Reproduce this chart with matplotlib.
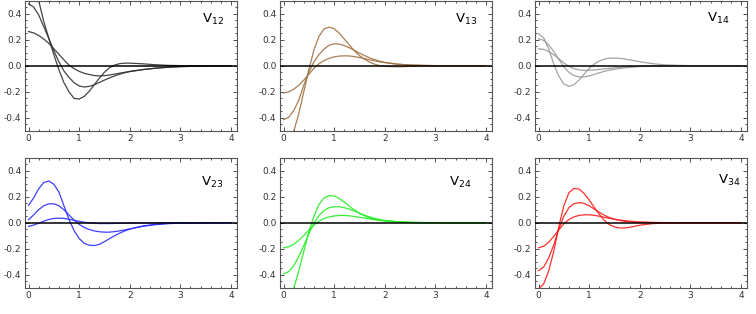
import numpy as np
import matplotlib.pyplot as plt
from matplotlib.ticker import MultipleLocator

# shared sample positions (x) for all curves
x = [0.0, 0.1, 0.2, 0.3, 0.4, 0.5, 0.6, 0.7, 0.8, 0.9, 1.0, 1.1, 1.2, 1.3,
     1.4, 1.5, 1.6, 1.7, 1.8, 1.9, 2.0, 2.25, 2.5, 2.75, 3.0, 3.5, 4.0]

# V12
v12_a = [0.74, 0.67, 0.5, 0.34, 0.21, 0.085, -0.03, -0.13, -0.2, -0.25, -0.255, -0.235, -0.195, -0.145,
         -0.095, -0.05, -0.015, 0.005, 0.016, 0.02, 0.02, 0.015, 0.008, 0.003, 0.001, 0.0, 0.0]
v12_b = [0.474, 0.45, 0.39, 0.3, 0.21, 0.115, 0.03, -0.04, -0.09, -0.13, -0.155, -0.163, -0.158, -0.145,
         -0.128, -0.11, -0.093, -0.078, -0.065, -0.054, -0.045, -0.03, -0.019, -0.011, -0.006, -0.002, 0.0]
v12_c = [0.262, 0.252, 0.232, 0.205, 0.172, 0.13, 0.088, 0.045, 0.005, -0.022, -0.043, -0.058, -0.067, -0.075,
         -0.078, -0.076, -0.071, -0.064, -0.057, -0.05, -0.043, -0.03, -0.019, -0.012, -0.007, -0.002, 0.0]
# V13
v13_a = [-0.64, -0.6, -0.505, -0.37, -0.2, -0.03, 0.12, 0.225, 0.282, 0.296, 0.283, 0.25, 0.205, 0.158,
         0.115, 0.078, 0.05, 0.028, 0.012, 0.001, -0.005, -0.008, -0.005, -0.002, -0.001, 0.0, 0.0]
v13_b = [-0.413, -0.395, -0.345, -0.265, -0.15, -0.05, 0.03, 0.085, 0.128, 0.157, 0.168, 0.166, 0.155, 0.138,
         0.118, 0.097, 0.078, 0.061, 0.047, 0.035, 0.026, 0.012, 0.005, 0.002, 0.001, 0.0, 0.0]
v13_c = [-0.209, -0.2, -0.18, -0.15, -0.11, -0.065, -0.02, 0.015, 0.04, 0.057, 0.068, 0.074, 0.076, 0.075,
         0.07, 0.063, 0.055, 0.046, 0.038, 0.03, 0.024, 0.012, 0.006, 0.003, 0.001, 0.0, 0.0]
# V14
v14_a = [0.245, 0.215, 0.13, 0.015, -0.08, -0.14, -0.158, -0.145, -0.11, -0.065, -0.02, 0.013, 0.036, 0.051,
         0.058, 0.059, 0.057, 0.052, 0.045, 0.038, 0.031, 0.016, 0.007, 0.003, 0.001, 0.0, 0.0]
v14_b = [0.206, 0.195, 0.16, 0.11, 0.05, -0.008, -0.05, -0.075, -0.086, -0.086, -0.078, -0.066, -0.054, -0.043,
         -0.034, -0.027, -0.021, -0.016, -0.012, -0.009, -0.006, -0.003, -0.001, 0.0, 0.0, 0.0, 0.0]
v14_c = [0.13, 0.125, 0.11, 0.085, 0.055, 0.022, -0.005, -0.022, -0.032, -0.036, -0.035, -0.032, -0.028, -0.024,
         -0.02, -0.016, -0.013, -0.01, -0.008, -0.006, -0.004, -0.002, -0.001, 0.0, 0.0, 0.0, 0.0]
# V23
v23_a = [0.133, 0.19, 0.26, 0.308, 0.32, 0.295, 0.235, 0.13, 0.025, -0.06, -0.12, -0.158, -0.172, -0.175,
         -0.165, -0.145, -0.122, -0.1, -0.08, -0.063, -0.049, -0.025, -0.012, -0.005, -0.002, 0.0, 0.0]
v23_b = [0.023, 0.06, 0.1, 0.13, 0.145, 0.145, 0.13, 0.1, 0.06, 0.02, -0.012, -0.036, -0.052, -0.063,
         -0.069, -0.072, -0.072, -0.068, -0.062, -0.055, -0.047, -0.028, -0.015, -0.007, -0.003, -0.001, 0.0]
v23_c = [-0.028, -0.018, -0.004, 0.012, 0.025, 0.033, 0.035, 0.033, 0.027, 0.019, 0.011, 0.004, -0.001, -0.004,
         -0.006, -0.006, -0.006, -0.005, -0.004, -0.004, -0.003, -0.002, -0.001, 0.0, 0.0, 0.0, 0.0]
# V24
v24_a = [-0.64, -0.6, -0.505, -0.37, -0.22, -0.07, 0.05, 0.14, 0.19, 0.208, 0.205, 0.186, 0.158, 0.127,
         0.098, 0.073, 0.053, 0.037, 0.025, 0.02, 0.014, 0.005, 0.001, 0.0, 0.0, 0.0, 0.0]
v24_b = [-0.392, -0.375, -0.33, -0.26, -0.175, -0.085, -0.005, 0.055, 0.095, 0.115, 0.123, 0.123, 0.116, 0.104,
         0.089, 0.073, 0.058, 0.045, 0.034, 0.025, 0.018, 0.008, 0.003, 0.001, 0.0, 0.0, 0.0]
v24_c = [-0.192, -0.185, -0.165, -0.135, -0.098, -0.057, -0.018, 0.012, 0.032, 0.045, 0.052, 0.056, 0.056, 0.053,
         0.048, 0.042, 0.036, 0.03, 0.024, 0.019, 0.015, 0.008, 0.004, 0.002, 0.001, 0.0, 0.0]
# V34
v34_a = [-0.508, -0.47, -0.37, -0.22, -0.03, 0.13, 0.23, 0.263, 0.258, 0.225, 0.175, 0.118, 0.065, 0.018,
         -0.014, -0.032, -0.04, -0.04, -0.035, -0.027, -0.019, -0.007, -0.002, -0.001, 0.0, 0.0, 0.0]
v34_b = [-0.367, -0.34, -0.27, -0.17, -0.05, 0.05, 0.115, 0.146, 0.154, 0.148, 0.13, 0.105, 0.08, 0.058,
         0.04, 0.027, 0.018, 0.011, 0.007, 0.004, 0.002, 0.001, 0.0, 0.0, 0.0, 0.0, 0.0]
v34_c = [-0.192, -0.18, -0.15, -0.105, -0.055, -0.008, 0.025, 0.045, 0.056, 0.061, 0.061, 0.057, 0.05, 0.042,
         0.034, 0.027, 0.021, 0.016, 0.012, 0.009, 0.006, 0.003, 0.001, 0.0, 0.0, 0.0, 0.0]

names = ['12', '13', '14', '23', '24', '34']
curves = [(v12_a, v12_b, v12_c), (v13_a, v13_b, v13_c), (v14_a, v14_b, v14_c),
          (v23_a, v23_b, v23_c), (v24_a, v24_b, v24_c), (v34_a, v34_b, v34_c)]
colors = ['#303030', '#a07040', '#999999', '#2a2aff', '#22ee22', '#ff1a1a']

plt.rcParams['axes.unicode_minus'] = False
fig = plt.figure(figsize=(7.56, 3.14), dpi=100)
W, H = 756.0, 314.0
lefts = [25, 280, 535]
tops = [0.5, 157.5]
label_pos = [(0.835, 0.915), (0.825, 0.915), (0.811, 0.92),
             (0.83, 0.87), (0.797, 0.87), (0.863, 0.88)]

for i in range(6):
    r, c = divmod(i, 3)
    ax = fig.add_axes([lefts[c] / W, 1 - (tops[r] + 130.5) / H, 212 / W, 130.5 / H])
    for y in curves[i]:
        ax.plot(x, y, color=colors[i], lw=0.9, alpha=0.9)
    ax.axhline(0, color='black', lw=1.1, zorder=3)
    ax.set_xlim(-0.07, 4.12)
    ax.set_ylim(-0.5, 0.5)
    ax.xaxis.set_major_locator(MultipleLocator(1))
    ax.xaxis.set_minor_locator(MultipleLocator(0.2))
    ax.yaxis.set_major_locator(MultipleLocator(0.2))
    ax.yaxis.set_minor_locator(MultipleLocator(0.05))
    ax.tick_params(which='both', direction='in', top=True, right=True,
                   labelsize=6.5, width=0.6, colors='#333333', pad=2.5)
    ax.tick_params(which='major', length=3)
    ax.tick_params(which='minor', length=1.6)
    ax.set_yticks([-0.4, -0.2, 0.0, 0.2, 0.4])
    ax.set_yticklabels(['-0.4', '-0.2', '0.0', '0.2', '0.4'])
    for s in ax.spines.values():
        s.set_color('#555555')
        s.set_linewidth(0.8)
    ax.text(label_pos[i][0], label_pos[i][1], r'V$_{' + names[i] + '}$',
            transform=ax.transAxes, fontsize=9.5, va='top', ha='left')

fig.savefig('out.png', dpi=100)
